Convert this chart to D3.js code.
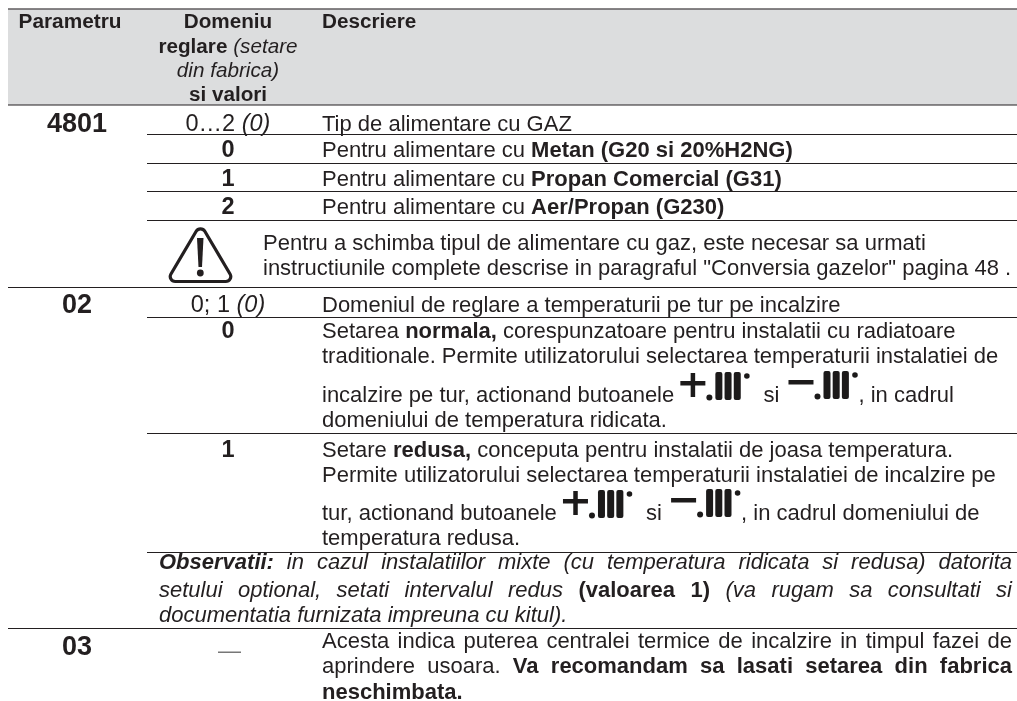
<!DOCTYPE html>
<html>
<head>
<meta charset="utf-8">
<script src="https://cdn.jsdelivr.net/npm/d3@7"></script>
<style>
  html, body { margin: 0; padding: 0; background: #fff; }
  svg { display: block; filter: blur(0.35px); }
  text { font-family: "Liberation Sans", Arial, sans-serif; fill: #231f20; white-space: pre; }
</style>
</head>
<body>
<div id="chart"></div>
<script>
/* Table content. Inline markup: *italic*, **bold**, ***bold italic***, {+} and {-} are the buttons */
var header_params = ["**Parametru**"];
var header_range = ["**Domeniu**", "**reglare** *(setare*", "*din fabrica)*", "**si valori**"];
var header_desc = ["**Descriere**"];

var params = ["4801", "02", "03"];
var ranges = ["0…2 *(0)*", "**0**", "**1**", "**2**", "0; 1 *(0)*", "**0**", "**1**"];

var desc_4801 = [
  "Tip de alimentare cu GAZ",
  "Pentru alimentare cu **Metan (G20 si 20%H2NG)**",
  "Pentru alimentare cu **Propan Comercial (G31)**",
  "Pentru alimentare cu **Aer/Propan (G230)**"
];
var warning_lines = [
  "Pentru a schimba tipul de alimentare cu gaz, este necesar sa urmati",
  "instructiunile complete descrise in paragraful \"Conversia gazelor\" pagina 48 ."
];
var desc_02 = [
  "Domeniul de reglare a temperaturii pe tur pe incalzire",
  "Setarea **normala,** corespunzatoare pentru instalatii cu radiatoare",
  "traditionale. Permite utilizatorului selectarea temperaturii instalatiei de",
  "incalzire pe tur, actionand butoanele {+} si {-}, in cadrul",
  "domeniului de temperatura ridicata.",
  "Setare **redusa,** conceputa pentru instalatii de joasa temperatura.",
  "Permite utilizatorului selectarea temperaturii instalatiei de incalzire pe",
  "tur, actionand butoanele {+} si {-}, in cadrul domeniului de",
  "temperatura redusa."
];
var notes = [
  "***Observatii:*** *in cazul instalatiilor mixte (cu temperatura ridicata si redusa) datorita*",
  "*setului optional, setati intervalul redus* **(valoarea 1)** *(va rugam sa consultati si*",
  "*documentatia furnizata impreuna cu kitul).*"
];
var desc_03 = [
  "Acesta indica puterea centralei termice de incalzire in timpul fazei de",
  "aprindere usoara. **Va recomandam sa lasati setarea din fabrica**",
  "**neschimbata.**"
];

/* Layout, in pixels */
var width = 1017, height = 701;
var ink = "#231f20";
var table_left = 8, inner_left = 147, table_right = 1017;
var text_left = 322, text_right = 1012, notes_left = 159, warning_left = 263;
var col_header = 70, col_param = 77, col_range = 228;
var header_top = 8.5, header_bottom = 105;

var y_header = [28, 53, 77, 101];
var y_params = [132, 313, 655];
var y_ranges = [131, 157, 186, 214, 312, 338, 457];
var y_4801 = [131, 157, 186, 214];
var y_warning = [250, 275];
var y_02 = [312, 338, 363, 402, 427, 457, 482, 520, 545];
var y_notes = [569, 597, 622];
var y_03 = [648, 673, 699];
var y_full_rules = [287, 628];
var y_inner_rules = [134, 163, 191, 220, 317, 433, 552];

var svg = d3.select("#chart").append("svg")
  .attr("width", width)
  .attr("height", height);

svg.append("rect")
  .attr("x", table_left)
  .attr("y", header_top)
  .attr("width", table_right - table_left)
  .attr("height", header_bottom - header_top)
  .attr("fill", "#dcddde");

function draw_rules(ys, x0, cls) {
  svg.selectAll("." + cls)
    .data(ys)
   .enter().append("line")
    .attr("class", cls)
    .attr("x1", x0)
    .attr("x2", table_right)
    .attr("y1", function(d) { return d + 0.5; })
    .attr("y2", function(d) { return d + 0.5; })
    .attr("stroke", ink)
    .attr("stroke-width", 1.2);
}
draw_rules([header_top, header_bottom - 0.5].concat(y_full_rules), table_left, "full_rule");
draw_rules(y_inner_rules, inner_left, "inner_rule");

/* Split a marked up string into runs */
function parse_runs(s) {
  return s.split(/(\*\*\*.+?\*\*\*|\*\*.+?\*\*|\*.+?\*|\{[+-]\})/)
    .filter(function(p) { return p.length > 0; })
    .map(function(p) {
      if (p == "{+}" || p == "{-}") return { icon: p.charAt(1) };
      if (p.indexOf("***") == 0) return { text: p.slice(3, -3), bold: true, italic: true };
      if (p.indexOf("**") == 0) return { text: p.slice(2, -2), bold: true };
      if (p.indexOf("*") == 0) return { text: p.slice(1, -1), italic: true };
      return { text: p };
    });
}

/* horizontal room taken by each button mark, and where it sits in that room */
var icon_advance = { "+": 77, "-": 73 };
var icon_offset = { "+": 0, "-": 3 };

/* The +.III and -.III button marks, origin at baseline left */
function draw_icon(x, y, sign) {
  var dy = sign == "+" ? 0 : -1;
  var g = svg.append("g")
    .attr("transform", "translate(" + x + "," + (y + dy) + ")")
    .attr("fill", "#1c1a1a");
  g.append("rect").attr("x", 0).attr("y", -19).attr("width", 25).attr("height", 4.5);
  if (sign == "+") g.append("rect").attr("x", 10.3).attr("y", -27).attr("width", 4.5).attr("height", 24);
  g.append("circle").attr("cx", 29).attr("cy", -2.6).attr("r", 3);
  d3.range(3).forEach(function(i) {
    g.append("rect")
      .attr("x", 35 + i * 9.2).attr("y", -28)
      .attr("width", 7).attr("height", 28)
      .attr("rx", 2);
  });
  g.append("circle").attr("cx", 66.5).attr("cy", -24).attr("r", 2.8);
}

/* Draw one line of runs. justify_to stretches the word gaps up to that right edge. */
function draw_line(s, x, y, o) {
  o = o || {};
  var runs = parse_runs(s);
  var size = o.size || 22;
  var g = svg.append("g");
  var natural = 0, gaps = 0;
  runs.forEach(function(r) {
    if (r.icon) { natural += icon_advance[r.icon]; return; }
    r.node = g.append("text")
      .attr("y", y)
      .attr("font-size", size)
      .attr("font-weight", (r.bold || o.bold) ? "bold" : "normal")
      .attr("font-style", r.italic ? "italic" : "normal")
      .text(r.text);
    r.w = r.node.node().getComputedTextLength();
    r.gaps = (r.text.match(/ /g) || []).length;
    natural += r.w;
    gaps += r.gaps;
  });
  var extra = (o.justify_to && gaps) ? (o.justify_to - x - natural) / gaps : 0;
  var cx = o.center ? x - natural / 2 : x;
  runs.forEach(function(r) {
    if (r.icon) {
      draw_icon(cx + icon_offset[r.icon], y + (o.icon_dy || 0), r.icon);
      cx += icon_advance[r.icon];
      return;
    }
    r.node.attr("x", cx).style("word-spacing", extra + "px");
    cx += r.w + r.gaps * extra;
  });
}

function draw_lines(lines, x, ys, o) {
  lines.forEach(function(s, i) { draw_line(s, x, ys[i], o); });
}

/* Header */
draw_line(header_params[0], col_header, y_header[0], { size: 20.8, center: true });
header_range.forEach(function(s, i) {
  draw_line(s, col_range, y_header[i], { size: 20.7, center: true });
});
draw_line(header_desc[0], text_left, y_header[0], { size: 20.7 });

/* First two columns */
params.forEach(function(s, i) {
  draw_line(s, col_param, y_params[i], { size: 27, bold: true, center: true });
});
ranges.forEach(function(s, i) {
  draw_line(s, col_range, y_ranges[i], { size: 23.5, center: true });
});

/* The dash in the 03 row is a faint scanned rule */
svg.append("rect")
  .attr("x", col_range - 10).attr("y", 651.5)
  .attr("width", 23).attr("height", 1.5)
  .attr("fill", "#777");

/* Descriptions */
draw_lines(desc_4801, text_left, y_4801);
draw_lines(warning_lines, warning_left, y_warning);
draw_lines(desc_02, text_left, y_02, { icon_dy: -2 });
draw_lines(notes.slice(0, 2), notes_left, y_notes, { justify_to: text_right });
draw_line(notes[2], notes_left, y_notes[2]);
draw_lines(desc_03.slice(0, 2), text_left, y_03, { justify_to: text_right });
draw_line(desc_03[2], text_left, y_03[2]);

/* Warning triangle, corners rounded */
var tri = d3.path();
tri.moveTo(200.5, 281.5);
tri.arcTo(166.5, 281.5, 183.5, 252.75, 5);
tri.arcTo(200.5, 224, 217.5, 252.75, 5);
tri.arcTo(234.5, 281.5, 200.5, 281.5, 5);
tri.closePath();

var warn = svg.append("g");
warn.append("path")
  .attr("d", tri.toString())
  .attr("fill", "none")
  .attr("stroke", ink)
  .attr("stroke-width", 3.2);
warn.append("path")
  .attr("d", d3.line()([[197, 238], [203.5, 238], [202, 267], [198.5, 267]]) + "Z")
  .attr("fill", ink);
warn.append("circle")
  .attr("cx", 200.3).attr("cy", 273).attr("r", 3.4)
  .attr("fill", ink);
</script>
</body>
</html>
